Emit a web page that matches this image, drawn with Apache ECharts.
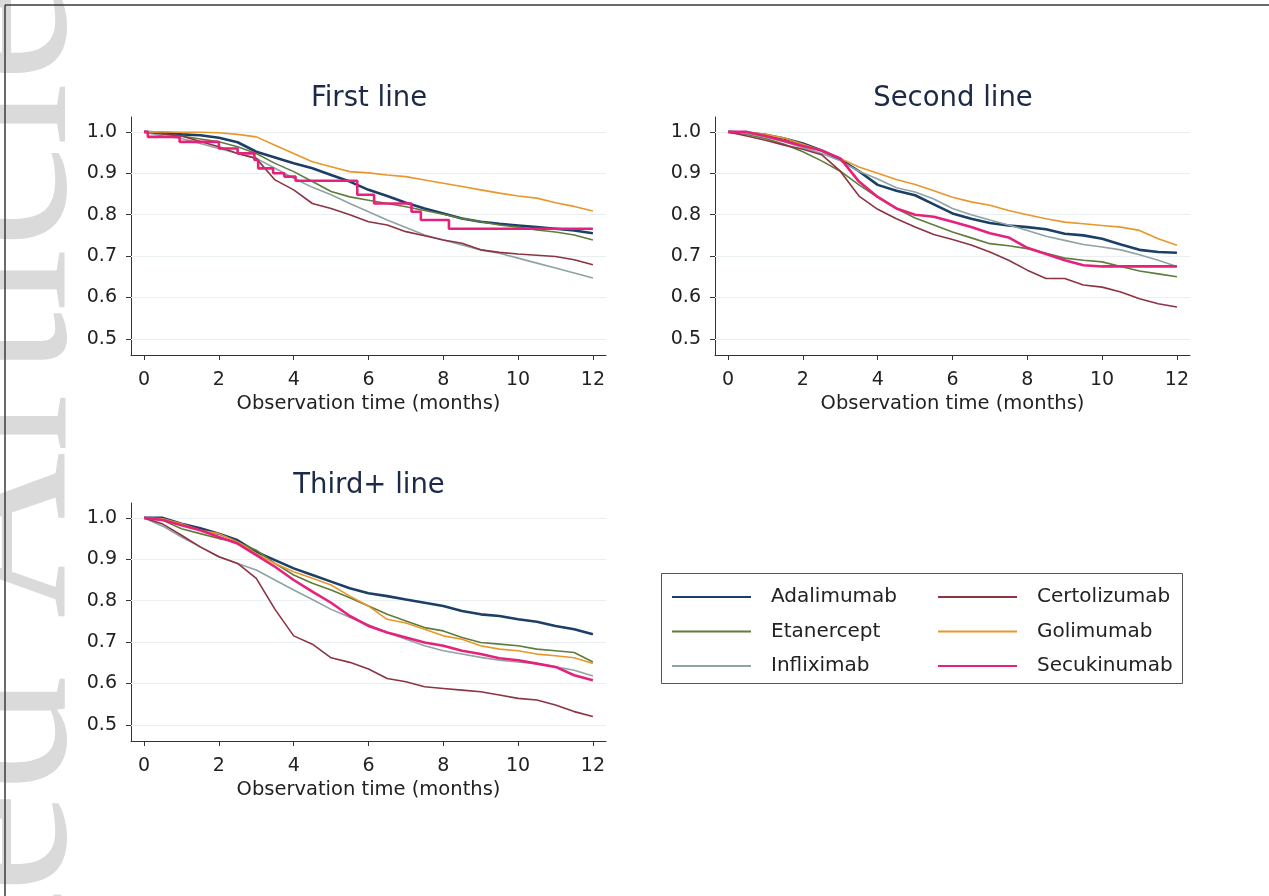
<!DOCTYPE html>
<html>
<head>
<meta charset="utf-8">
<script src="https://cdn.jsdelivr.net/npm/echarts@6/dist/echarts.min.js"></script>
<style>
html,body{margin:0;padding:0;background:#fff;}
#chart{width:1269px;height:896px;}
</style>
</head>
<body>
<div id="chart"></div>
<script>
// ---------- data ----------
const PANELS = ['First line', 'Second line', 'Third+ line'];
const DRUGS = ['Adalimumab', 'Etanercept', 'Infliximab', 'Certolizumab', 'Golimumab', 'Secukinumab'];
const X_TICKS = [0, 2, 4, 6, 8, 10, 12];
const Y_TICKS = [0.5, 0.6, 0.7, 0.8, 0.9, 1.0];
const MONTHS = [0, 0.5, 1, 1.5, 2, 2.5, 3, 3.5, 4, 4.5, 5, 5.5, 6, 6.5, 7, 7.5, 8, 8.5, 9, 9.5, 10, 10.5, 11, 11.5, 12];

// First line
const P1_ADA = [1.000,0.998,0.994,0.992,0.986,0.975,0.952,0.938,0.924,0.912,0.896,0.880,0.860,0.845,0.829,0.815,0.803,0.791,0.783,0.778,0.774,0.770,0.766,0.762,0.755];
const P1_ETA = [1.000,0.995,0.990,0.983,0.976,0.964,0.948,0.924,0.904,0.880,0.856,0.843,0.835,0.827,0.819,0.810,0.801,0.791,0.783,0.775,0.770,0.763,0.758,0.751,0.739];
const P1_INF = [1.000,0.990,0.984,0.972,0.960,0.948,0.936,0.912,0.888,0.866,0.848,0.827,0.807,0.787,0.769,0.751,0.739,0.727,0.715,0.707,0.695,0.683,0.671,0.659,0.647];
const P1_CER = [1.000,0.995,0.990,0.977,0.964,0.948,0.936,0.884,0.860,0.827,0.815,0.800,0.783,0.775,0.759,0.749,0.739,0.731,0.715,0.709,0.705,0.702,0.699,0.691,0.679];
const P1_GOL = [1.000,1.000,0.999,0.999,0.998,0.994,0.988,0.968,0.948,0.928,0.916,0.904,0.901,0.896,0.892,0.884,0.876,0.868,0.860,0.852,0.845,0.840,0.829,0.820,0.809];
const P1_SEC_T = [0, 0.1, 0.95, 2.0, 2.5, 2.95, 3.05, 3.45, 3.75, 4.05, 5.7, 6.15, 7.15, 7.4, 8.15, 12];
const P1_SEC_V = [1.000,0.988,0.976,0.960,0.948,0.932,0.912,0.900,0.892,0.882,0.848,0.827,0.807,0.787,0.766,0.765];

// Second line
const P2_ADA = [1.000,0.998,0.993,0.984,0.972,0.955,0.934,0.905,0.872,0.858,0.847,0.825,0.803,0.790,0.780,0.774,0.770,0.765,0.754,0.750,0.742,0.728,0.715,0.710,0.708];
const P2_ETA = [1.000,0.994,0.984,0.970,0.952,0.930,0.905,0.872,0.842,0.815,0.792,0.775,0.758,0.744,0.730,0.725,0.718,0.707,0.695,0.690,0.686,0.675,0.664,0.657,0.650];
const P2_INF = [1.000,0.996,0.988,0.976,0.962,0.948,0.930,0.905,0.886,0.865,0.855,0.838,0.815,0.800,0.787,0.775,0.762,0.748,0.738,0.728,0.722,0.715,0.703,0.690,0.675];
const P2_CER = [1.000,0.990,0.980,0.968,0.958,0.945,0.905,0.845,0.813,0.790,0.770,0.752,0.740,0.727,0.710,0.690,0.666,0.646,0.646,0.630,0.625,0.613,0.597,0.585,0.577];
const P2_GOL = [1.000,1.000,0.994,0.985,0.970,0.955,0.936,0.915,0.900,0.885,0.873,0.858,0.842,0.831,0.823,0.810,0.800,0.790,0.782,0.778,0.774,0.770,0.762,0.742,0.726];
const P2_SEC = [1.000,1.000,0.990,0.978,0.966,0.955,0.936,0.880,0.843,0.815,0.800,0.795,0.783,0.770,0.755,0.745,0.720,0.705,0.690,0.678,0.675,0.675,0.675,0.675,0.675];

// Third+ line
const P3_ADA = [1.000,1.000,0.986,0.975,0.962,0.946,0.918,0.898,0.878,0.862,0.846,0.830,0.818,0.811,0.803,0.795,0.787,0.775,0.767,0.763,0.755,0.749,0.739,0.731,0.719];
const P3_ETA = [1.000,0.994,0.974,0.962,0.950,0.942,0.922,0.890,0.862,0.842,0.826,0.807,0.787,0.767,0.751,0.735,0.727,0.711,0.699,0.695,0.691,0.683,0.679,0.675,0.652];
const P3_INF = [1.000,0.980,0.954,0.930,0.906,0.890,0.874,0.850,0.826,0.803,0.779,0.760,0.742,0.723,0.707,0.691,0.679,0.671,0.663,0.656,0.652,0.648,0.640,0.632,0.618];
const P3_CER = [1.000,0.985,0.958,0.930,0.906,0.890,0.854,0.779,0.715,0.695,0.662,0.651,0.635,0.612,0.604,0.592,0.588,0.584,0.580,0.572,0.564,0.560,0.548,0.532,0.520];
const P3_GOL = [1.000,0.998,0.986,0.970,0.962,0.942,0.914,0.890,0.870,0.854,0.838,0.811,0.787,0.755,0.746,0.731,0.715,0.707,0.691,0.683,0.679,0.671,0.667,0.662,0.648];
const P3_SEC = [1.000,0.995,0.982,0.970,0.954,0.938,0.910,0.882,0.850,0.822,0.795,0.763,0.739,0.723,0.711,0.699,0.691,0.679,0.671,0.661,0.656,0.648,0.640,0.620,0.608];

// ---------- styles ----------
const COLORS = {
  Adalimumab: '#1b3f66', Etanercept: '#5e7c3b', Infliximab: '#8fa2a4',
  Certolizumab: '#8b3442', Golimumab: '#e9962a', Secukinumab: '#e6217c'
};
const WIDTHS = {
  Adalimumab: 2.6, Etanercept: 1.6, Infliximab: 1.6,
  Certolizumab: 1.6, Golimumab: 1.6, Secukinumab: 2.6
};
const FONT = '"DejaVu Sans", "Liberation Sans", Arial, sans-serif';

const GRIDS = [
  {left: 131, top: 117, width: 475, height: 238},
  {left: 715, top: 117, width: 475, height: 238},
  {left: 131, top: 503, width: 475, height: 238}
];

function zipPairs(ts, vs) { return ts.map((t, k) => [t, vs[k]]); }

const PANEL_DATA = [
  {Adalimumab: zipPairs(MONTHS, P1_ADA), Etanercept: zipPairs(MONTHS, P1_ETA), Infliximab: zipPairs(MONTHS, P1_INF),
   Certolizumab: zipPairs(MONTHS, P1_CER), Golimumab: zipPairs(MONTHS, P1_GOL), Secukinumab: zipPairs(P1_SEC_T, P1_SEC_V)},
  {Adalimumab: zipPairs(MONTHS, P2_ADA), Etanercept: zipPairs(MONTHS, P2_ETA), Infliximab: zipPairs(MONTHS, P2_INF),
   Certolizumab: zipPairs(MONTHS, P2_CER), Golimumab: zipPairs(MONTHS, P2_GOL), Secukinumab: zipPairs(MONTHS, P2_SEC)},
  {Adalimumab: zipPairs(MONTHS, P3_ADA), Etanercept: zipPairs(MONTHS, P3_ETA), Infliximab: zipPairs(MONTHS, P3_INF),
   Certolizumab: zipPairs(MONTHS, P3_CER), Golimumab: zipPairs(MONTHS, P3_GOL), Secukinumab: zipPairs(MONTHS, P3_SEC)}
];

const series = [];
PANEL_DATA.forEach((pd, p) => {
  DRUGS.forEach((d, k) => {
    const s = {
      type: 'line', name: d, xAxisIndex: p, yAxisIndex: p,
      data: pd[d], symbol: 'none', showSymbol: false, smooth: false,
      lineStyle: {color: COLORS[d], width: WIDTHS[d]},
      itemStyle: {color: COLORS[d]},
      z: 3 + k, silent: true
    };
    if (p === 0 && d === 'Secukinumab') s.step = 'end';
    if (k === 0) {
      s.markLine = {
        silent: true, symbol: 'none', label: {show: false}, animation: false, z: 1,
        lineStyle: {color: '#eaf0f1', type: 'solid', width: 1},
        data: Y_TICKS.map(v => ({yAxis: v}))
      };
    }
    series.push(s);
  });
});

function mkX(i) {
  return {
    type: 'value', gridIndex: i, min: -0.35, max: 12.35,
    axisLine: {show: true, onZero: false, lineStyle: {color: '#333', width: 1}},
    axisTick: {show: true, customValues: X_TICKS, length: 5, lineStyle: {color: '#333', width: 1}},
    axisLabel: {customValues: X_TICKS, fontSize: 19, fontFamily: FONT, color: '#222', margin: 16},
    splitLine: {show: false},
    name: 'Observation time (months)', nameLocation: 'middle', nameGap: 39,
    nameTextStyle: {fontSize: 19.5, fontFamily: FONT, color: '#222'}
  };
}
function mkY(i) {
  return {
    type: 'value', gridIndex: i, min: 0.461, max: 1.036,
    axisLine: {show: true, onZero: false, lineStyle: {color: '#333', width: 1}},
    axisTick: {show: true, customValues: Y_TICKS, length: 5, lineStyle: {color: '#333', width: 1}},
    axisLabel: {customValues: Y_TICKS, fontSize: 19, fontFamily: FONT, color: '#222', margin: 14,
                formatter: v => Number(v).toFixed(1)},
    splitLine: {show: false}
  };
}

const TITLE_POS = [[369, 85], [953, 85], [369, 472]];
const titles = PANELS.map((t, i) => ({
  text: t, left: TITLE_POS[i][0], top: TITLE_POS[i][1], textAlign: 'center', padding: 0,
  textStyle: {fontSize: 27.5, fontFamily: FONT, fontWeight: 'normal', color: '#1c2a48'}
}));

function mkLegend(names, left) {
  return {
    data: names, orient: 'vertical', left: left, top: 587, padding: 0,
    itemWidth: 79, itemHeight: 14, itemGap: 14.5, selectedMode: false,
    itemStyle: {opacity: 0},
    textStyle: {fontSize: 20, fontFamily: FONT, color: '#222', lineHeight: 20, padding: [0, 0, 0, 15]}
  };
}

const option = {
  animation: false,
  backgroundColor: '#ffffff',
  title: titles,
  legend: [mkLegend(['Adalimumab', 'Etanercept', 'Infliximab'], 671),
           mkLegend(['Certolizumab', 'Golimumab', 'Secukinumab'], 937)],
  grid: GRIDS,
  xAxis: [mkX(0), mkX(1), mkX(2)],
  yAxis: [mkY(0), mkY(1), mkY(2)],
  series: series,
  graphic: [
    {type: 'group', z: -100, silent: true, children: [
      {type: 'text', x: 5, y: -20, rotation: Math.PI / 2, silent: true,
       style: {text: 'Accepted Article', fontSize: 230, fontFamily: '"Liberation Serif", "DejaVu Serif", serif',
               fill: '#dadada', align: 'right', verticalAlign: 'middle'}}
    ]},
    {type: 'group', z: 100, silent: true, children: [
      {type: 'line', silent: true, shape: {x1: 5, y1: 5, x2: 1269, y2: 5}, style: {stroke: '#3a3a3a', lineWidth: 1.5}},
      {type: 'line', silent: true, shape: {x1: 5, y1: 5, x2: 5, y2: 896}, style: {stroke: '#3a3a3a', lineWidth: 1.5}},
      {type: 'rect', silent: true, shape: {x: 661.5, y: 573.5, width: 521, height: 110},
       style: {fill: 'none', stroke: '#555', lineWidth: 1}}
    ]}
  ]
};

const chart = echarts.init(document.getElementById('chart'), null, {renderer: 'canvas'});
chart.setOption(option);
</script>
</body>
</html>
